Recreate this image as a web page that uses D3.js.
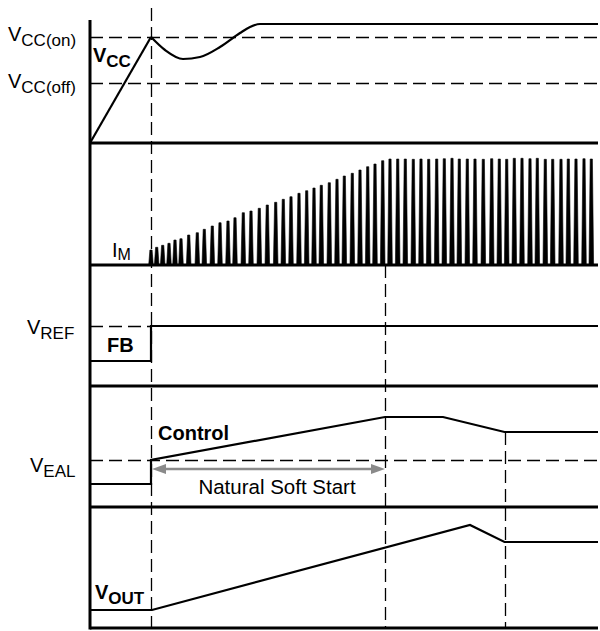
<!DOCTYPE html>
<html><head><meta charset="utf-8">
<script src="https://cdn.jsdelivr.net/npm/d3@7"></script>
<style>html,body{margin:0;padding:0;background:#fff}svg{display:block}text{font-family:"Liberation Sans",Arial,Helvetica,sans-serif;fill:#000}</style>
</head><body><svg id="c" width="600" height="631"></svg>
<script>
// ---------------- data (time units, level units per panel) ----------------
const timeDomain = [0, 508];
const levelDomain = [0, 121];

// Panel 1: VCC
const vccRise = [[0, 0], [61, 106]];
const vccSettle = [[61, 106], [75, 93], [93, 84], [110, 86], [130, 96], [150, 110], [160, 116], [170, 119], [508, 119]];
const vccThresholdLevels = [106, 60];
const vccThresholdSubs = ["CC(on)", "CC(off)"];

// Panel 2: IM switching current spikes
const spikeTimes = [61, 66.7, 72.7, 79, 85, 91, 98.7, 107.3, 114.3, 122.3, 130, 138, 145, 153.3, 161, 169.3, 177.3, 185.7, 193.3, 201, 209, 216.7, 224, 231.3, 239.3, 247, 254.3, 262.3, 270, 277.7, 285, 292.7, 300, 307.7, 315.3, 323.3, 331, 338.7, 346.7, 354.3, 362, 369.3, 377.3, 385, 393.3, 401.7, 409.3, 416.7, 424.3, 432, 440, 447.3, 455.3, 462.7, 471, 478.3, 486, 494, 501.3];
const spikePeaks = [15, 17.7, 19.7, 21.7, 25, 26.3, 30, 32.3, 35.7, 39, 42.3, 44, 47.3, 52.3, 54, 56.7, 60, 62.7, 65.7, 68.3, 71.7, 74.3, 77, 79.7, 82.3, 85.7, 89, 91.7, 95, 98.3, 101, 104.3, 106, 106, 106, 105.7, 106, 105.7, 106, 106.3, 106.7, 106, 106, 106, 105.7, 106.3, 106, 105.7, 106.7, 106.7, 106.3, 106.7, 105.7, 105.7, 105.7, 106, 106, 106.3, 106];

// Panel 3: FB
const fbPoints = [[0, 25], [61, 25], [61, 60], [508, 60]];
const vrefLevel = 60;

// Panel 4: Control
const controlPoints = [[0, 23], [61, 23], [61, 47], [295, 90], [353, 90], [414.5, 75], [508, 75]];
const vealLevel = 47;
const softStartSpan = [61, 295];
const softStartLevel = 38;

// Panel 5: VOUT
const voutPoints = [[0, 18], [62, 18], [380, 103], [414.5, 86], [508, 86]];

// Event markers (vertical dashed lines)
const markerTimes = [61, 295, 414.5];

// ---------------- layout ----------------
const L = { left: 90, right: 598, top: 20, bottoms: [143, 265, 386, 507, 628] };
const svg = d3.select("#c");
const x = d3.scaleLinear().domain(timeDomain).range([L.left, L.right]);
const ys = L.bottoms.map(b => d3.scaleLinear().domain(levelDomain).range([b, b - 121]));
const lineGen = (ysc, curve) => d3.line().x(d => x(d[0])).y(d => ysc(d[1])).curve(curve || d3.curveLinear);
const DASH = "13,6";
const dashed = sel => sel.attr("stroke", "#000").attr("stroke-width", 1.3).attr("stroke-dasharray", DASH);

// vertical dashed markers
const markerTops = [8, L.bottoms[1], ys[3](75)];
markerTimes.forEach((t, i) => {
  const xp = Math.round(x(t)) + 0.5;
  dashed(svg.append("line").attr("x1", xp).attr("x2", xp).attr("y1", markerTops[i]).attr("y2", L.bottoms[4]));
});

// horizontal dashed thresholds
const hDash = (t0, t1, yp) => { const yy = Math.round(yp) + 0.5; dashed(svg.append("line").attr("x1", x(t0)).attr("x2", x(t1)).attr("y1", yy).attr("y2", yy)); };
vccThresholdLevels.forEach(v => hDash(0, 508, ys[0](v)));
hDash(0, 61, ys[2](vrefLevel));
hDash(0, 508, ys[3](vealLevel));

// signals
const sig = (d, ysc, curve) => svg.append("path").attr("d", lineGen(ysc, curve)(d)).attr("fill", "none")
  .attr("stroke", "#000").attr("stroke-width", 2.2).attr("stroke-linejoin", "miter");
sig(vccRise, ys[0]);
sig(vccSettle, ys[0], d3.curveMonotoneX);
sig(fbPoints, ys[2]);
sig(controlPoints, ys[3]);
sig(voutPoints, ys[4]);

// spikes
const spikePath = d3.path();
spikeTimes.forEach((t, i) => {
  const cx = x(t), yb = ys[1](0), yp = ys[1](spikePeaks[i]);
  spikePath.moveTo(cx - 2.3, yb);
  spikePath.lineTo(cx - 1.1, yp);
  spikePath.lineTo(cx + 1.1, yp);
  spikePath.lineTo(cx + 2.3, yb);
  spikePath.closePath();
});
svg.append("path").attr("d", spikePath.toString()).attr("fill", "#000").attr("stroke", "#000").attr("stroke-width", 0.6).attr("stroke-linejoin", "round");

// soft-start arrow
const ay = ys[3](softStartLevel), ax1 = x(softStartSpan[0]) + 1, ax2 = x(softStartSpan[1]);
const gray = "#8a8a8a";
svg.append("line").attr("x1", ax1 + 8).attr("x2", ax2 - 8).attr("y1", ay).attr("y2", ay).attr("stroke", gray).attr("stroke-width", 2.5);
svg.append("path").attr("d", `M${ax1},${ay}L${ax1 + 14},${ay - 5}L${ax1 + 14},${ay + 5}Z`).attr("fill", gray);
svg.append("path").attr("d", `M${ax2},${ay}L${ax2 - 14},${ay - 5}L${ax2 - 14},${ay + 5}Z`).attr("fill", gray);

// frame: left axis and panel separators
L.bottoms.forEach(b => {
  svg.append("line").attr("x1", L.left).attr("x2", L.right).attr("y1", b).attr("y2", b).attr("stroke", "#000").attr("stroke-width", 3);
});
svg.append("line").attr("x1", L.left).attr("x2", L.left).attr("y1", L.top).attr("y2", L.bottoms[4] + 1.5).attr("stroke", "#000").attr("stroke-width", 3);

// labels
function label(xp, yp, main, sub, opts) {
  opts = opts || {};
  const t = svg.append("text").attr("x", xp).attr("y", yp).attr("font-size", opts.size || 20)
    .attr("font-weight", opts.bold ? "bold" : "normal");
  t.append("tspan").text(main);
  if (sub) t.append("tspan").attr("dy", opts.dy || 5).attr("font-size", opts.subSize || 17).text(sub);
  return t;
}
label(8, ys[0](vccThresholdLevels[0]) + 4, "V", vccThresholdSubs[0]);
label(8, ys[0](vccThresholdLevels[1]) + 5, "V", vccThresholdSubs[1]);
label(93, 62, "V", "CC", { bold: true });
label(112, 257, "I", "M", { subSize: 16, dy: 3 });
label(27, 334, "V", "REF");
label(107, 352, "FB", null, { bold: true });
label(30, 472, "V", "EAL");
label(158, 440, "Control", null, { bold: true });
svg.append("text").attr("x", (x(softStartSpan[0]) + x(softStartSpan[1])) / 2 + 9).attr("y", 494)
  .attr("text-anchor", "middle").attr("font-size", 20.5).text("Natural Soft Start");
label(95, 599, "V", "OUT", { bold: true });
</script></body></html>
